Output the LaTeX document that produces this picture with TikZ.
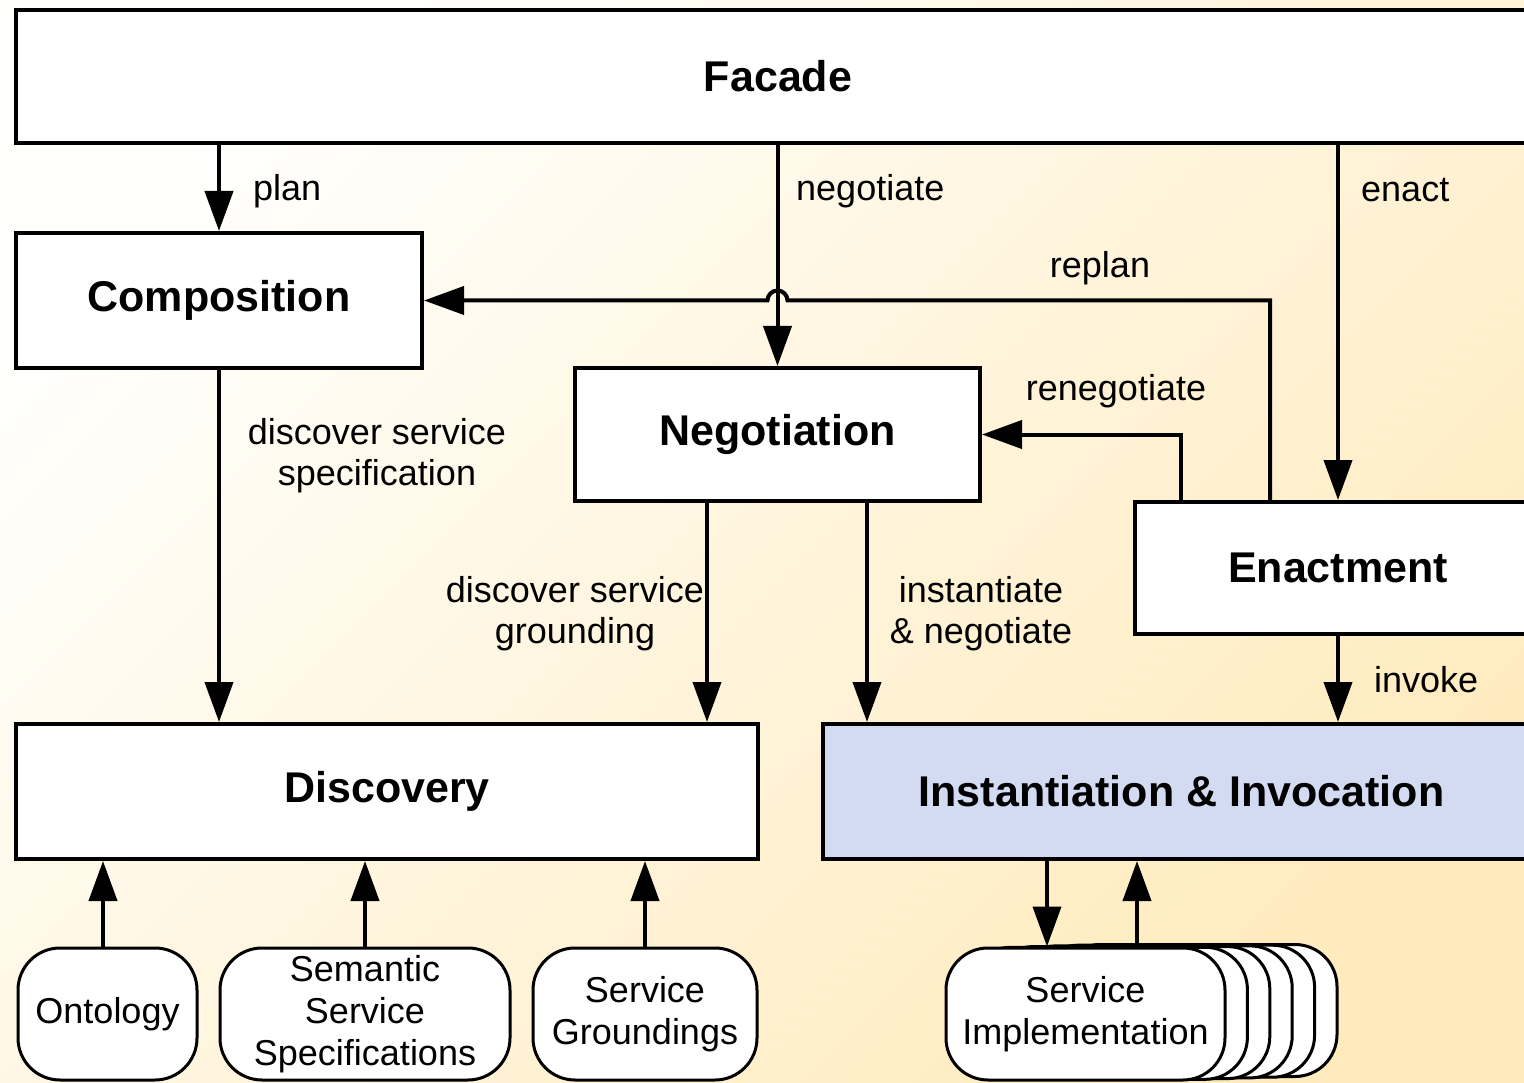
\documentclass[tikz,border=0pt]{standalone}
\usepackage{fontspec}
\setmainfont{Liberation Sans}
\usetikzlibrary{arrows.meta}
\definecolor{bgwarm}{HTML}{FFEBBE}
\definecolor{bgcool}{HTML}{FFFFFD}
\definecolor{instblue}{HTML}{D3DBF3}
\begin{document}
\begin{tikzpicture}[x=1pt,y=-1pt,
  box/.style={draw=black, line width=4pt, fill=white, inner sep=0pt,
    font=\fontsize{43}{47}\selectfont\bfseries},
  store/.style={draw=black, line width=3pt, fill=white, rounded corners=42pt,
    inner sep=0pt, align=center, minimum height=132pt,
    font=\fontsize{36}{42}\selectfont},
  lbl/.style={inner sep=0pt, align=center, font=\fontsize{36}{41}\selectfont},
  arr/.style={line width=4pt, -{Triangle[width=28pt,length=40pt]}},
]
% page frame and warm background
\useasboundingbox (0,0) rectangle (1524,1083);
\clip (0,0) rectangle (1524,1083);
\shade[shading=axis, top color=bgcool, bottom color=bgwarm, shading angle=45]
  (0,0) rectangle (1524,1083);

% main components
\node[box, minimum width=1524pt, minimum height=133pt] (facade) at (778,76.5) {Facade};
\node[box, minimum width=406pt, minimum height=135pt] (comp) at (219,300.5) {Composition};
\node[box, minimum width=405pt, minimum height=133pt] (nego) at (777.5,434.5) {Negotiation};
\node[box, minimum width=406pt, minimum height=132pt] (enact) at (1338,568) {Enactment};
\node[box, minimum width=742pt, minimum height=135pt] (disc) at (387,791.5) {Discovery};
\node[box, fill=instblue, minimum width=717pt, minimum height=135pt] (inst) at (1181.5,791.5)
  {Instantiation \& Invocation};

% repositories
\node[store, minimum width=179pt] (onto) at (107.5,1014) {Ontology};
\node[store, minimum width=290pt] (sem) at (365,1014) {Semantic\\Service\\Specifications};
\node[store, minimum width=224pt] (grd) at (645,1014) {Service\\Groundings};
\foreach \i in {5,4,3,2,1}
  \node[store, minimum width=279pt] (implcopy\i) at (1085.5+22.4*\i,1014-0.7*\i) {};
\node[store, minimum width=279pt] (impl) at (1085.5,1014) {Service\\Implementation};

% control flow from the facade
\draw[arr] (facade.south -| comp.north) -- (comp.north);
\draw[arr] (facade.south -| nego.north) -- (nego.north);
\draw[arr] (facade.south -| enact.north) -- (enact.north);

% replan feedback, hopping over the negotiate line
\coordinate (cross) at (nego.north |- comp.east);
\draw[arr] (enact.north -| 1270,0) |- ([xshift=10pt]cross)
  arc[start angle=0, end angle=180, radius=10pt] -- (comp.east);
\draw[arr] (enact.north -| 1181,0) |- (nego.east);

% downward requests
\draw[arr] (comp.south) -- (comp.south |- disc.north);
\draw[arr] (nego.south -| 707,0) -- (disc.north -| 707,0);
\draw[arr] (nego.south -| 867,0) -- (inst.north -| 867,0);
\draw[arr] (enact.south) -- (enact.south |- inst.north);

% repositories feeding discovery
\draw[arr] (onto.north -| 103,0) -- (disc.south -| 103,0);
\draw[arr] (sem.north) -- (sem.north |- disc.south);
\draw[arr] (grd.north) -- (grd.north |- disc.south);

% invocation of service implementations
\draw[arr] (inst.south -| 1047,0) -- (impl.north -| 1047,0);
\draw[arr] (impl.north -| 1137,0) -- (inst.south -| 1137,0);

% connector labels
\node[lbl, anchor=west] (lplan) at (253,191) {plan};
\node[lbl, anchor=west] (lnego) at (796,191) {negotiate};
\node[lbl, anchor=west] (lenact) at (1361,190) {enact};
\node[lbl] (lreplan) at (1100,268) {replan};
\node[lbl] (lreneg) at (1116,391) {renegotiate};
\node[lbl] (lspec) at (377,456) {discover service\\specification};
\node[lbl] (lground) at (575,614) {discover service\\grounding};
\node[lbl] (linst) at (981,614) {instantiate\\\& negotiate};
\node[lbl, anchor=west] (linvoke) at (1374,680) {invoke};
\end{tikzpicture}
\end{document}
